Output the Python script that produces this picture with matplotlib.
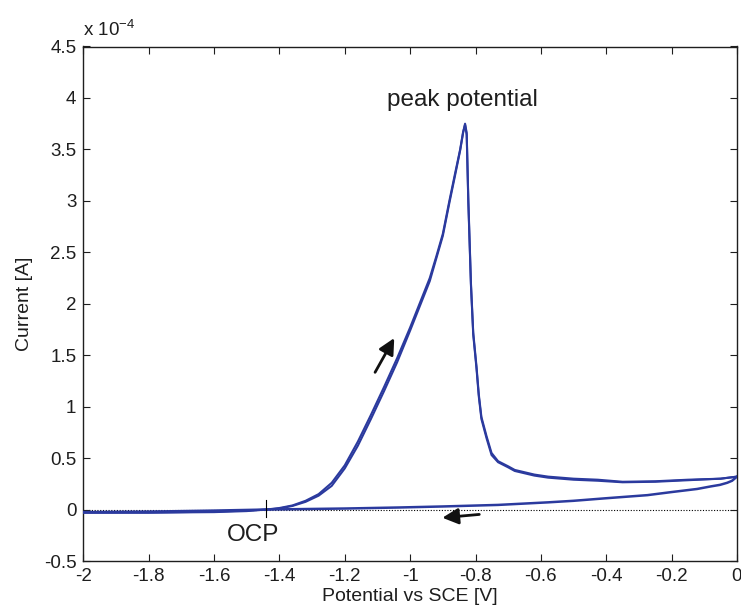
import matplotlib
matplotlib.use('Agg')
import matplotlib.pyplot as plt

plt.rcParams['font.family'] = ['Liberation Sans', 'DejaVu Sans']
plt.rcParams['mathtext.default'] = 'regular'

# potential [V vs SCE], current in units of 1e-4 A
pot_fwd = [-2.00, -1.80, -1.60, -1.50, -1.44, -1.40, -1.36, -1.32, -1.28, -1.24,
           -1.20, -1.16, -1.12, -1.08, -1.04, -1.00, -0.96, -0.94, -0.92, -0.90,
           -0.88, -0.863, -0.847, -0.838, -0.832, -0.827, -0.822, -0.814, -0.807,
           -0.797, -0.790, -0.782, -0.766, -0.751, -0.731, -0.70, -0.68, -0.62,
           -0.578, -0.50, -0.426, -0.35, -0.25, -0.15, -0.05, 0.00]
cur_fwd_1 = [-0.03, -0.03, -0.025, -0.015, 0.00, 0.01, 0.035, 0.075, 0.135, 0.23,
             0.40, 0.62, 0.88, 1.15, 1.43, 1.74, 2.06, 2.22, 2.44, 2.66,
             2.98, 3.24, 3.49, 3.66, 3.75, 3.66, 3.01, 2.20, 1.72,
             1.39, 1.12, 0.90, 0.71, 0.55, 0.47, 0.42, 0.385, 0.34,
             0.32, 0.30, 0.29, 0.27, 0.275, 0.29, 0.30, 0.32]
cur_fwd_2 = [-0.03, -0.03, -0.02, -0.01, 0.00, 0.015, 0.04, 0.085, 0.15, 0.26,
             0.43, 0.66, 0.92, 1.19, 1.47, 1.77, 2.09, 2.25, 2.46, 2.68,
             3.00, 3.26, 3.50, 3.67, 3.74, 3.64, 2.98, 2.18, 1.70,
             1.37, 1.10, 0.88, 0.69, 0.53, 0.46, 0.41, 0.375, 0.33,
             0.31, 0.29, 0.28, 0.265, 0.27, 0.285, 0.30, 0.32]

pot_rev = [0.00, -0.015, -0.03, -0.052, -0.08, -0.122, -0.20, -0.274, -0.40,
           -0.50, -0.578, -0.731, -0.90, -1.035, -1.20, -1.44, -1.60, -1.80, -2.00]
cur_rev = [0.32, 0.28, 0.26, 0.24, 0.225, 0.20, 0.17, 0.14, 0.11,
           0.085, 0.07, 0.045, 0.03, 0.02, 0.01, 0.00, -0.01, -0.02, -0.025]

ocp = -1.44

blue = '#2b3a9e'
ink = '#1e1e1e'

fig = plt.figure(figsize=(7.41, 6.12), dpi=100)
ax = fig.add_axes([83.3 / 741, 1 - 561 / 612, (737 - 83.3) / 741, (561 - 46.5) / 612])

ax.axhline(0, color='black', lw=0.8, ls=(0, (1, 1.5)), zorder=1)
ax.plot(pot_fwd, cur_fwd_1, color=blue, lw=1.5, zorder=3)
ax.plot(pot_fwd, cur_fwd_2, color=blue, lw=1.5, zorder=3)
ax.plot(pot_rev, cur_rev, color=blue, lw=1.8, zorder=3)

# OCP marker
ax.plot([ocp, ocp], [-0.07, 0.09], color='black', lw=0.8, zorder=4)

# sweep direction arrows
ax.annotate('', xy=(-1.0445, 1.69), xytext=(-1.1115, 1.31),
            arrowprops=dict(arrowstyle='-|>', color='#111111', lw=2, mutation_scale=24))
ax.annotate('', xy=(-0.91, -0.082), xytext=(-0.78, -0.045),
            arrowprops=dict(arrowstyle='-|>', color='#111111', lw=2, mutation_scale=24))

ax.text(-0.84, 3.98, 'peak potential', ha='center', va='center', fontsize=17.5, color=ink)
ax.text(-1.48, -0.25, 'OCP', ha='center', va='center', fontsize=17.5, color=ink)

ax.set_xlim(-2, 0)
ax.set_ylim(-0.5, 4.5)
ax.set_xticks([-2, -1.8, -1.6, -1.4, -1.2, -1, -0.8, -0.6, -0.4, -0.2, 0])
ax.set_xticklabels(['-2', '-1.8', '-1.6', '-1.4', '-1.2', '-1', '-0.8', '-0.6', '-0.4', '-0.2', '0'])
ax.set_yticks([-0.5, 0, 0.5, 1, 1.5, 2, 2.5, 3, 3.5, 4, 4.5])
ax.set_yticklabels(['-0.5', '0', '0.5', '1', '1.5', '2', '2.5', '3', '3.5', '4', '4.5'])
ax.tick_params(direction='in', top=True, right=True, length=5, width=0.8,
               labelsize=13.5, colors=ink, pad=5)
for s in ax.spines.values():
    s.set_linewidth(1.0)
    s.set_color(ink)

ax.set_xlabel('Potential vs SCE [V]', fontsize=14, color=ink, labelpad=2)
ax.set_ylabel('Current [A]', fontsize=14, color=ink, labelpad=8)
ax.text(0, 1.012, r'x 10$^{-4}$', transform=ax.transAxes, fontsize=13.5,
        color=ink, ha='left', va='bottom')

fig.savefig('out.png', dpi=100, facecolor='white')
